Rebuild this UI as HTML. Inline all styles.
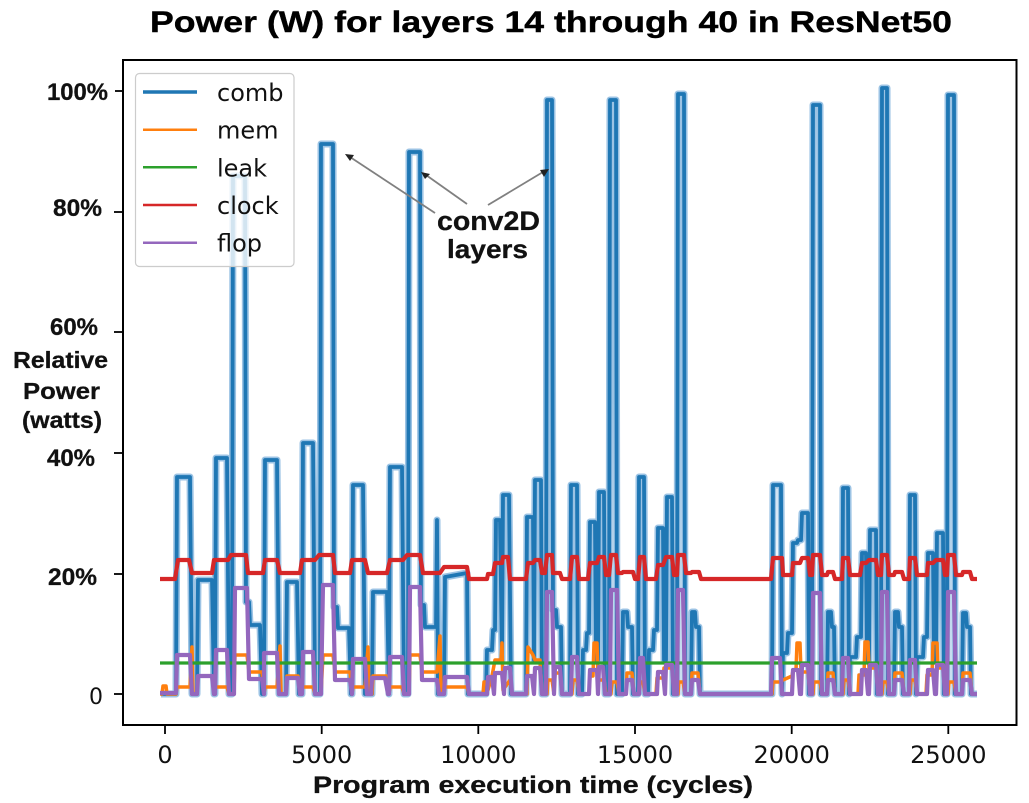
<!DOCTYPE html>
<html><head><meta charset="utf-8"><style>
html,body{margin:0;padding:0;background:#fff;}
svg{display:block;}
</style></head><body>
<svg width="1029" height="803" viewBox="0 0 1029 803" xmlns="http://www.w3.org/2000/svg">
<rect x="0" y="0" width="1029" height="803" fill="#fff"/>
<text x="150" y="32" font-family="Liberation Sans, Arial, sans-serif" font-weight="bold" font-size="30" textLength="802" lengthAdjust="spacingAndGlyphs" stroke="#000" stroke-width="0.4">Power (W) for layers 14 through 40 in ResNet50</text>

<defs>
<polyline id="comb" points="161,694 176,694 177,477 190,477 192,694 197,694 198,580 212,580 214,694 215,694 216,458 227,458 229,694 232,694 233,176 245,176 246,602 249,602 250,625 260,625 262,694 264,694 265,460 277,460 279,694 286,694 287,582 297,582 299,694 302,694 303,443 313,443 315,694 320,694 321,144 333,144 334,607 337,607 338,628 349,628 351,694 352,694 353,485 363,485 365,694 372,694 373,592 387,592 389,694 389,694 390,467 402,467 404,694 408,694 409,152 420,152 421,605 424,605 425,627 436,627 437,520 438,694 444,694 445,577 467,573 468,694 486,694 487,650 492,650 493,630 495,630 496,520 500,520 502,660 503,495 509,495 511,694 526,694 527,517 533,517 534,660 535,480 541,480 542,694 546,694 547,100 552,100 553,610 556,610 557,627 561,627 562,694 570,694 571,485 577,485 578,694 582,694 583,650 586,650 587,633 589,633 590,522 595,522 596,660 598,660 599,492 604,492 605,694 609,694 610,100 616,100 617,694 622,694 623,612 627,612 628,627 632,627 633,694 638,694 639,477 644,477 645,694 648,694 649,650 653,650 654,630 657,630 658,528 663,528 664,660 666,660 667,497 672,497 673,694 677,694 678,94 684,94 685,694 691,694 692,612 695,612 696,627 699,627 700,694 772,694 773,485 781,485 782,694 783,653 787,653 788,633 792,633 793,543 797,543 798,540 801,540 802,513 808,513 809,694 812,694 813,105 820,105 821,694 827,694 828,612 831,612 832,627 834,627 835,694 842,694 843,488 848,488 849,694 850,657 856,657 857,637 861,637 862,553 866,553 867,660 869,660 870,530 876,530 877,694 881,694 882,88 887,88 888,694 894,694 895,612 898,612 899,627 902,627 903,694 909,694 910,495 915,495 916,694 917,657 923,657 924,637 927,637 928,553 933,553 934,660 936,660 937,533 943,533 944,694 947,694 948,95 954,95 955,694 962,694 963,613 966,613 967,627 970,627 971,694 977,694"/>
</defs>

<g fill="none" stroke-linejoin="round" stroke-linecap="butt">
<!-- comb -->
<use href="#comb" stroke="#9cc3e4" stroke-width="7"/>
<use href="#comb" stroke="#1f77b4" stroke-width="3.8"/>
<!-- mem -->
<polyline stroke="#ff7f0e" stroke-width="3.5" points="160,694 162,694 163,686 166,686 167,694 176,694 177,687 190,687 192,647 193,694 197,694 198,676 212,676 214,694 215,687 227,687 229,694 234,694 235,655 247,655 249,672 262,672 264,694 265,687 277,687 280,646 281,694 286,694 287,676 298,676 300,694 303,687 313,687 315,694 321,694 323,655 333,655 335,672 350,672 352,694 353,687 365,687 368,647 369,694 372,694 373,676 387,676 389,694 390,687 402,687 404,694 409,694 410,655 420,655 422,672 437,672 440,636 441,694 444,694 445,687 467,687 469,694 483,694 484,682 487,682 488,690 492,676 495,660 501,660 502,643 503,690 510,680 512,694 527,694 528,647 533,655 535,660 540,660 542,694 547,694 548,680 552,680 554,694 555,673 560,673 562,694 572,694 573,680 577,680 579,694 589,694 590,676 593,676 594,643 597,643 598,680 604,680 606,694 611,694 612,682 617,682 619,694 626,694 627,673 632,673 634,694 639,694 640,682 643,682 645,694 656,694 657,678 663,678 664,668 672,668 674,694 678,694 679,682 683,682 685,694 691,694 692,673 698,673 700,694 772,694 773,682 781,682 783,680 792,676 793,670 796,670 797,643 800,643 801,672 808,672 810,694 813,694 814,682 820,682 822,694 827,694 828,673 833,673 835,694 843,694 844,680 848,680 850,694 858,694 859,675 864,675 865,642 868,642 869,668 876,668 878,694 882,694 883,682 887,682 889,694 894,694 895,673 902,673 904,694 910,694 911,680 915,680 917,694 926,694 927,675 932,675 933,643 937,643 938,668 943,668 945,694 948,694 949,682 954,682 956,694 962,694 963,673 970,673 972,694 977,694"/>
<!-- leak -->
<line x1="160" y1="663" x2="977" y2="663" stroke="#2ca02c" stroke-width="3.2"/>
<!-- clock -->
<polyline stroke="#d62728" stroke-width="4.2" points="160,579 175,579 178,560 189,560 192,573 212,573 214,560 228,560 231,555 246,555 248,573 263,573 265,560 277,560 280,573 300,573 302,560 315,560 319,555 333,555 335,573 350,573 352,560 365,560 368,573 387,573 390,560 403,560 407,555 420,555 423,573 440,573 444,567 467,567 469,579 487,579 488,574 493,574 495,563 502,563 503,557 508,557 510,579 526,579 528,563 533,563 535,560 540,560 542,573 545,573 547,555 552,555 553,573 560,573 562,579 570,579 572,557 577,557 579,579 588,579 590,563 597,563 599,557 604,557 606,575 609,575 611,555 616,555 618,573 622,573 623,572 633,572 635,579 638,579 640,557 644,557 646,579 656,579 658,565 663,565 666,557 672,557 674,575 677,575 678,555 684,555 686,573 691,573 692,572 699,572 701,579 771,579 773,558 782,558 783,575 792,575 793,563 800,563 802,558 808,558 810,575 812,575 813,555 820,555 822,575 827,575 828,572 833,572 835,579 842,579 843,558 848,558 850,575 860,575 862,563 866,563 869,560 876,560 878,575 881,575 882,555 887,555 889,575 894,575 895,572 902,572 904,579 909,579 910,558 915,558 917,575 927,575 928,563 933,563 936,560 943,560 945,575 947,575 948,555 954,555 956,575 962,575 963,572 970,572 972,579 977,579"/>
<!-- flop -->
<polyline stroke="#9467bd" stroke-width="4.2" points="160,693 176,693 177,655 190,655 192,694 197,694 198,676 212,676 214,694 215,694 216,650 227,650 229,694 234,694 235,588 247,588 249,679 262,679 264,694 264,653 277,653 279,694 286,694 287,678 298,678 300,694 302,694 303,652 313,652 315,694 321,694 323,585 333,585 335,680 350,680 352,694 353,659 365,659 367,694 371,694 372,678 385,678 388,694 389,694 390,657 402,657 404,694 409,694 410,587 420,587 422,680 437,680 439,694 444,694 445,677 467,677 469,694 487,694 488,677 492,677 494,694 495,673 502,673 504,694 505,668 510,668 512,694 526,694 527,676 532,676 534,694 535,668 540,668 542,694 546,694 547,592 552,592 554,694 555,667 560,667 562,694 571,694 572,657 577,657 579,694 589,694 590,670 597,670 598,694 599,667 603,667 605,694 610,694 611,590 617,590 619,694 626,694 627,680 632,680 634,694 639,694 640,658 643,658 645,694 657,694 658,672 663,672 665,694 666,665 672,665 674,694 677,694 678,590 683,590 685,694 691,694 692,680 698,680 700,694 771,694 772,658 780,658 782,694 792,694 793,670 798,670 800,694 801,694 802,665 808,665 810,694 812,694 813,593 820,593 822,694 827,694 828,680 833,680 835,694 842,694 843,658 848,658 850,694 861,694 862,670 866,670 868,694 869,694 870,665 876,665 878,694 881,694 882,592 887,592 889,694 894,694 895,680 902,680 904,694 909,694 910,660 915,660 917,694 927,694 928,670 933,670 935,694 936,694 937,665 943,665 945,694 947,694 948,592 954,592 956,694 962,694 963,680 970,680 972,694 977,694"/>
</g>

<!-- axes frame -->
<rect x="123" y="60" width="893.5" height="665" fill="none" stroke="#000" stroke-width="2"/>

<!-- y ticks -->
<g stroke="#000" stroke-width="1.8">
<line x1="115" y1="91" x2="123" y2="91"/>
<line x1="114" y1="212" x2="123" y2="212"/>
<line x1="114" y1="332" x2="123" y2="332"/>
<line x1="114" y1="453" x2="123" y2="453"/>
<line x1="114" y1="574" x2="123" y2="574"/>
<line x1="114" y1="694" x2="123" y2="694"/>
</g>
<!-- x ticks -->
<g stroke="#000" stroke-width="1.8">
<line x1="165" y1="725" x2="165" y2="734"/>
<line x1="321.7" y1="725" x2="321.7" y2="734"/>
<line x1="478.3" y1="725" x2="478.3" y2="734"/>
<line x1="635" y1="725" x2="635" y2="734"/>
<line x1="791.7" y1="725" x2="791.7" y2="734"/>
<line x1="948.3" y1="725" x2="948.3" y2="734"/>
</g>

<!-- y tick labels -->
<g font-family="Liberation Sans, Arial, sans-serif" font-weight="bold" font-size="24" fill="#111" stroke="#111" stroke-width="0.3">
<text x="47" y="100" textLength="61" lengthAdjust="spacingAndGlyphs">100%</text>
<text x="53" y="216" textLength="49" lengthAdjust="spacingAndGlyphs">80%</text>
<text x="50" y="335" textLength="48" lengthAdjust="spacingAndGlyphs">60%</text>
<text x="47" y="466" textLength="48" lengthAdjust="spacingAndGlyphs">40%</text>
<text x="48" y="585" textLength="49" lengthAdjust="spacingAndGlyphs">20%</text>
</g>
<text x="89" y="704" font-family="DejaVu Sans, sans-serif" font-size="22" fill="#111">0</text>

<!-- y axis label -->
<g font-family="Liberation Sans, Arial, sans-serif" font-weight="bold" font-size="23" fill="#111" stroke="#111" stroke-width="0.3">
<text x="13" y="368" textLength="95" lengthAdjust="spacingAndGlyphs">Relative</text>
<text x="23" y="399" textLength="77" lengthAdjust="spacingAndGlyphs">Power</text>
<text x="22" y="428" textLength="80" lengthAdjust="spacingAndGlyphs">(watts)</text>
</g>

<!-- x tick labels -->
<g font-family="DejaVu Sans, sans-serif" font-size="24" fill="#111" text-anchor="middle">
<text x="165" y="763">0</text>
<text x="321.7" y="763">5000</text>
<text x="478.3" y="763">10000</text>
<text x="635" y="763">15000</text>
<text x="791.7" y="763">20000</text>
<text x="948.3" y="763">25000</text>
</g>

<text x="313" y="793" font-family="Liberation Sans, Arial, sans-serif" font-weight="bold" font-size="24" fill="#111" stroke="#111" stroke-width="0.3" textLength="440" lengthAdjust="spacingAndGlyphs">Program execution time (cycles)</text>

<!-- legend -->
<rect x="135.5" y="73.5" width="158.5" height="193" rx="4" ry="4" fill="#fff" fill-opacity="0.8" stroke="#cccccc" stroke-width="1.2"/>
<g>
<line x1="143" y1="92" x2="197" y2="92" stroke="#1f77b4" stroke-width="3.5"/>
<line x1="143" y1="129.7" x2="197" y2="129.7" stroke="#ff7f0e" stroke-width="2.5"/>
<line x1="143" y1="167.3" x2="197" y2="167.3" stroke="#2ca02c" stroke-width="2.5"/>
<line x1="143" y1="205" x2="197" y2="205" stroke="#d62728" stroke-width="2.5"/>
<line x1="143" y1="242.7" x2="197" y2="242.7" stroke="#9467bd" stroke-width="2.5"/>
</g>
<g font-family="DejaVu Sans, sans-serif" font-size="24" fill="#111">
<text x="217" y="101">comb</text>
<text x="217" y="138.7">mem</text>
<text x="217" y="176.3">leak</text>
<text x="217" y="214">clock</text>
<text x="217" y="251.7">flop</text>
</g>

<!-- annotation -->
<g stroke="#808080" stroke-width="1.8" fill="none">
<line x1="435" y1="213" x2="350" y2="157"/>
<line x1="467" y1="204" x2="426" y2="175"/>
<line x1="488" y1="205" x2="543" y2="172"/>
</g>
<g fill="#222">
<polygon points="345,154 354,155 350,161"/>
<polygon points="421,172 430,174 425,179"/>
<polygon points="549,169 544,177 540,170"/>
</g>
<g font-family="Liberation Sans, Arial, sans-serif" font-weight="bold" fill="#111" stroke="#111" stroke-width="0.3">
<text x="437" y="230" font-size="27" textLength="103" lengthAdjust="spacingAndGlyphs">conv2D</text>
<text x="447" y="258" font-size="26" textLength="81" lengthAdjust="spacingAndGlyphs">layers</text>
</g>
</svg>
</body></html>
